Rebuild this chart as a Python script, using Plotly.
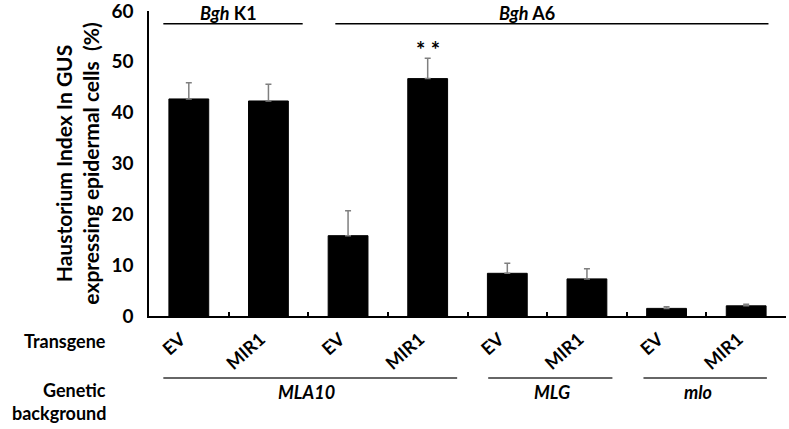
import plotly.graph_objects as go

transgene = ["EV", "MIR1", "EV", "MIR1", "EV", "MIR1", "EV", "MIR1"]
values = [42.7, 42.3, 15.8, 46.7, 8.4, 7.3, 1.5, 2.0]
errors = [3.2, 3.3, 4.9, 4.0, 2.0, 2.0, 0.3, 0.3]
y_ticks = [0, 10, 20, 30, 40, 50, 60]
isolates = [("<i>Bgh</i> K1", -0.32, 1.43, 0.5), ("<i>Bgh</i> A6", 1.84, 7.28, 4.25)]
backgrounds = [("<i>MLA10</i>", -0.32, 3.37, 1.48), ("<i>MLG</i>", 3.76, 5.32, 4.56),
               ("<i>mlo</i>", 5.71, 7.26, 6.40)]

FONT = "Lato"
pos = list(range(len(values)))

fig = go.Figure()
fig.add_trace(go.Bar(
    x=pos, y=values, width=0.5,
    marker=dict(color="black", line=dict(color="black", width=1)),
    error_y=dict(type="data", symmetric=False, array=errors,
                 arrayminus=[0] * len(errors), color="#7f7f7f",
                 thickness=1.5, width=3),
    showlegend=False,
))

fig.add_trace(go.Scatter(x=[-0.5, 7.5], y=[0, 0], xaxis="x2", mode="lines",
                         line=dict(width=0), showlegend=False, hoverinfo="skip"))

fig.update_layout(
    width=789, height=429,
    margin=dict(l=149, r=3, t=10.5, b=113, autoexpand=False),
    plot_bgcolor="white", paper_bgcolor="white",
    font=dict(family=FONT, size=18, color="black", weight="bold"),
    xaxis=dict(range=[-0.5, 7.5], tickmode="array", tickvals=pos, ticktext=transgene,
               tickangle=-42, ticks="", showline=True, linecolor="black", linewidth=1.5,
               showgrid=False, zeroline=False, automargin=False, ticklabelshift=-8,
               ticklabelstandoff=4,
               tickfont=dict(family=FONT, size=18, weight="bold")),
    xaxis2=dict(range=[-0.5, 7.5], overlaying="x", tickmode="array",
                tickvals=[p - 0.5 for p in pos] + [7.5], showticklabels=False,
                ticks="inside", ticklen=4, tickcolor="black", tickwidth=1.5,
                showline=False, showgrid=False, zeroline=False, anchor="y", side="bottom"),
    yaxis=dict(range=[0, 60], tickmode="array", tickvals=y_ticks, ticks="",
               showline=True, linecolor="black", linewidth=1.5, showgrid=False,
               zeroline=False, ticklabelstandoff=10, automargin=False,
               ticklabeloverflow="allow",
               tickfont=dict(family=FONT, size=19, weight="bold"),
               title=dict(text="Haustorium Index In GUS<br>expressing epidermal cells  (%)",
                          font=dict(family=FONT, size=21, weight="bold"), standoff=6)),
)

for label, x0, x1, xc in isolates:
    fig.add_shape(type="line", xref="x", yref="y", x0=x0, x1=x1, y0=57.5, y1=57.5,
                  line=dict(color="black", width=1.5))
    fig.add_annotation(x=xc, y=59.6, xref="x", yref="y", text=label, showarrow=False,
                       font=dict(family=FONT, size=18, weight="bold"), yanchor="middle")

fig.add_annotation(x=3, y=values[3] + errors[3] + 1.7, xref="x", yref="y", text="* *",
                   showarrow=False, font=dict(family=FONT, size=22, weight="bold"))

for label, x0, x1, xc in backgrounds:
    fig.add_shape(type="line", xref="x", yref="paper", x0=x0, x1=x1, y0=-0.203, y1=-0.203,
                  line=dict(color="#333333", width=1.5))
    fig.add_annotation(x=xc, y=-0.249, xref="x", yref="paper", text=label,
                       showarrow=False, font=dict(family=FONT, size=18, weight="bold"),
                       yanchor="middle")

for txt, yp in [("Transgene", -0.082), ("Genetic", -0.242), ("background", -0.318)]:
    fig.add_annotation(x=-0.064, y=yp, xref="paper", yref="paper", text=txt,
                       showarrow=False, xanchor="right", yanchor="middle",
                       font=dict(family=FONT, size=18, weight="bold"))

fig.write_html("out.html", config={"displayModeBar": False},
               post_script="document.body.style.margin='0';")
